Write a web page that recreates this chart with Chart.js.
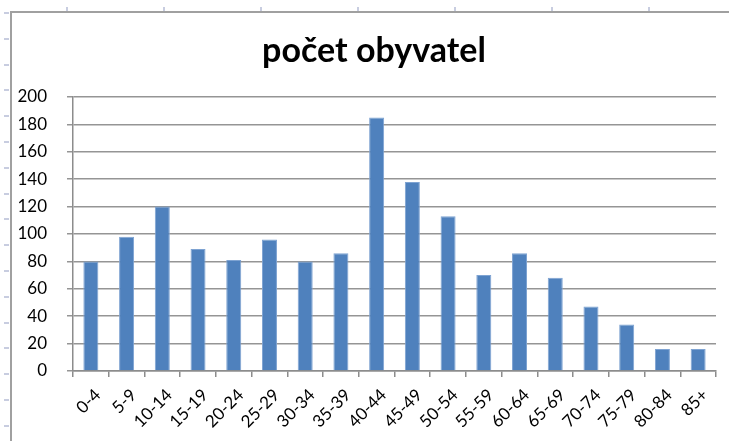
<!DOCTYPE html>
<html>
<head>
<meta charset="utf-8">
<script src="https://cdn.jsdelivr.net/npm/chart.js@4/dist/chart.umd.min.js"></script>
<style>
  body { margin: 0; background: #fff; }
  #wrap { position: relative; width: 729px; height: 441px; overflow: hidden; }
  /* sheet cell marks peeking around the chart object */
  #topmarks { position: absolute; left: 0; top: 7px; width: 729px; height: 4px;
    background: repeating-linear-gradient(to right, transparent 0, transparent 66px, #c8cde0 66px, #c8cde0 68px, transparent 68px, transparent 97px); }
  #leftmarks { position: absolute; left: 4px; top: 0; width: 5px; height: 441px;
    background: repeating-linear-gradient(to bottom, transparent 0, transparent 12px, #c8cde0 12px, #c8cde0 14px, transparent 14px, transparent 25.8px); }
  #frame { position: absolute; left: 10px; top: 11px; right: 0; bottom: 0;
    border-left: 2px solid #a0a0a0; border-top: 2px solid #a0a0a0; background: #fff; }
  canvas { position: absolute; left: 0; top: 0; }
</style>
</head>
<body>
<div id="wrap">
  <div id="topmarks"></div>
  <div id="leftmarks"></div>
  <div id="frame"></div>
  <canvas id="pop-chart" width="729" height="441"></canvas>
</div>
<script>
// age groups and head counts
var ageGroups = ['0-4', '5-9', '10-14', '15-19', '20-24', '25-29', '30-34', '35-39', '40-44',
                 '45-49', '50-54', '55-59', '60-64', '65-69', '70-74', '75-79', '80-84', '85+'];
var population = [80, 98, 120, 89, 81, 96, 80, 86, 185, 138, 113, 70, 86, 68, 47, 34, 16, 16];
var yMin = 0, yMax = 200, yStep = 20;
var chartTitle = 'počet obyvatel';

// excel centres the title a bit right of the canvas middle
var nudgeTitle = {
    id: 'nudgeTitle',
    afterLayout: function (chart) {
        if (chart.titleBlock) chart.titleBlock.left += 20;
    }
};

var ctx = document.getElementById('pop-chart').getContext('2d');
var myChart = new Chart(ctx, {
    type: 'bar',
    data: {
        labels: ageGroups,
        datasets: [{
            label: chartTitle,
            data: population,
            backgroundColor: '#4f81bd',
            borderColor: '#7ea3d2',
            borderWidth: 1,
            barPercentage: 0.42,
            categoryPercentage: 1
        }]
    },
    options: {
        responsive: false,
        animation: false,
        layout: { padding: { left: 12, right: 13, top: 0, bottom: 0 } },
        plugins: {
            legend: { display: false },
            tooltip: { enabled: false },
            title: {
                display: true,
                text: chartTitle,
                color: '#000',
                font: { family: 'Lato', size: 34, weight: 'bold' },
                padding: { top: 31, bottom: 25.2 }
            }
        },
        scales: {
            x: {
                grid: { drawOnChartArea: false, drawTicks: true, tickLength: 6, color: '#8c8c8c', lineWidth: 1.5 },
                border: { color: '#8c8c8c', width: 1.5 },
                ticks: {
                    color: '#000',
                    font: { family: 'Lato', size: 17 },
                    minRotation: 45, maxRotation: 45,
                    autoSkip: false,
                    labelOffset: 7,
                    padding: 8
                },
                afterFit: function (scale) { scale.height = 70; }
            },
            y: {
                min: yMin, max: yMax,
                grid: { color: '#959595', lineWidth: 1.5, tickLength: 6 },
                border: { color: '#8c8c8c', width: 1.5 },
                ticks: {
                    stepSize: yStep,
                    color: '#000',
                    font: { family: 'Lato', size: 17 },
                    padding: 20
                },
                afterFit: function (scale) { scale.width = 61; }
            }
        }
    },
    plugins: [nudgeTitle]
});
</script>
</body>
</html>
